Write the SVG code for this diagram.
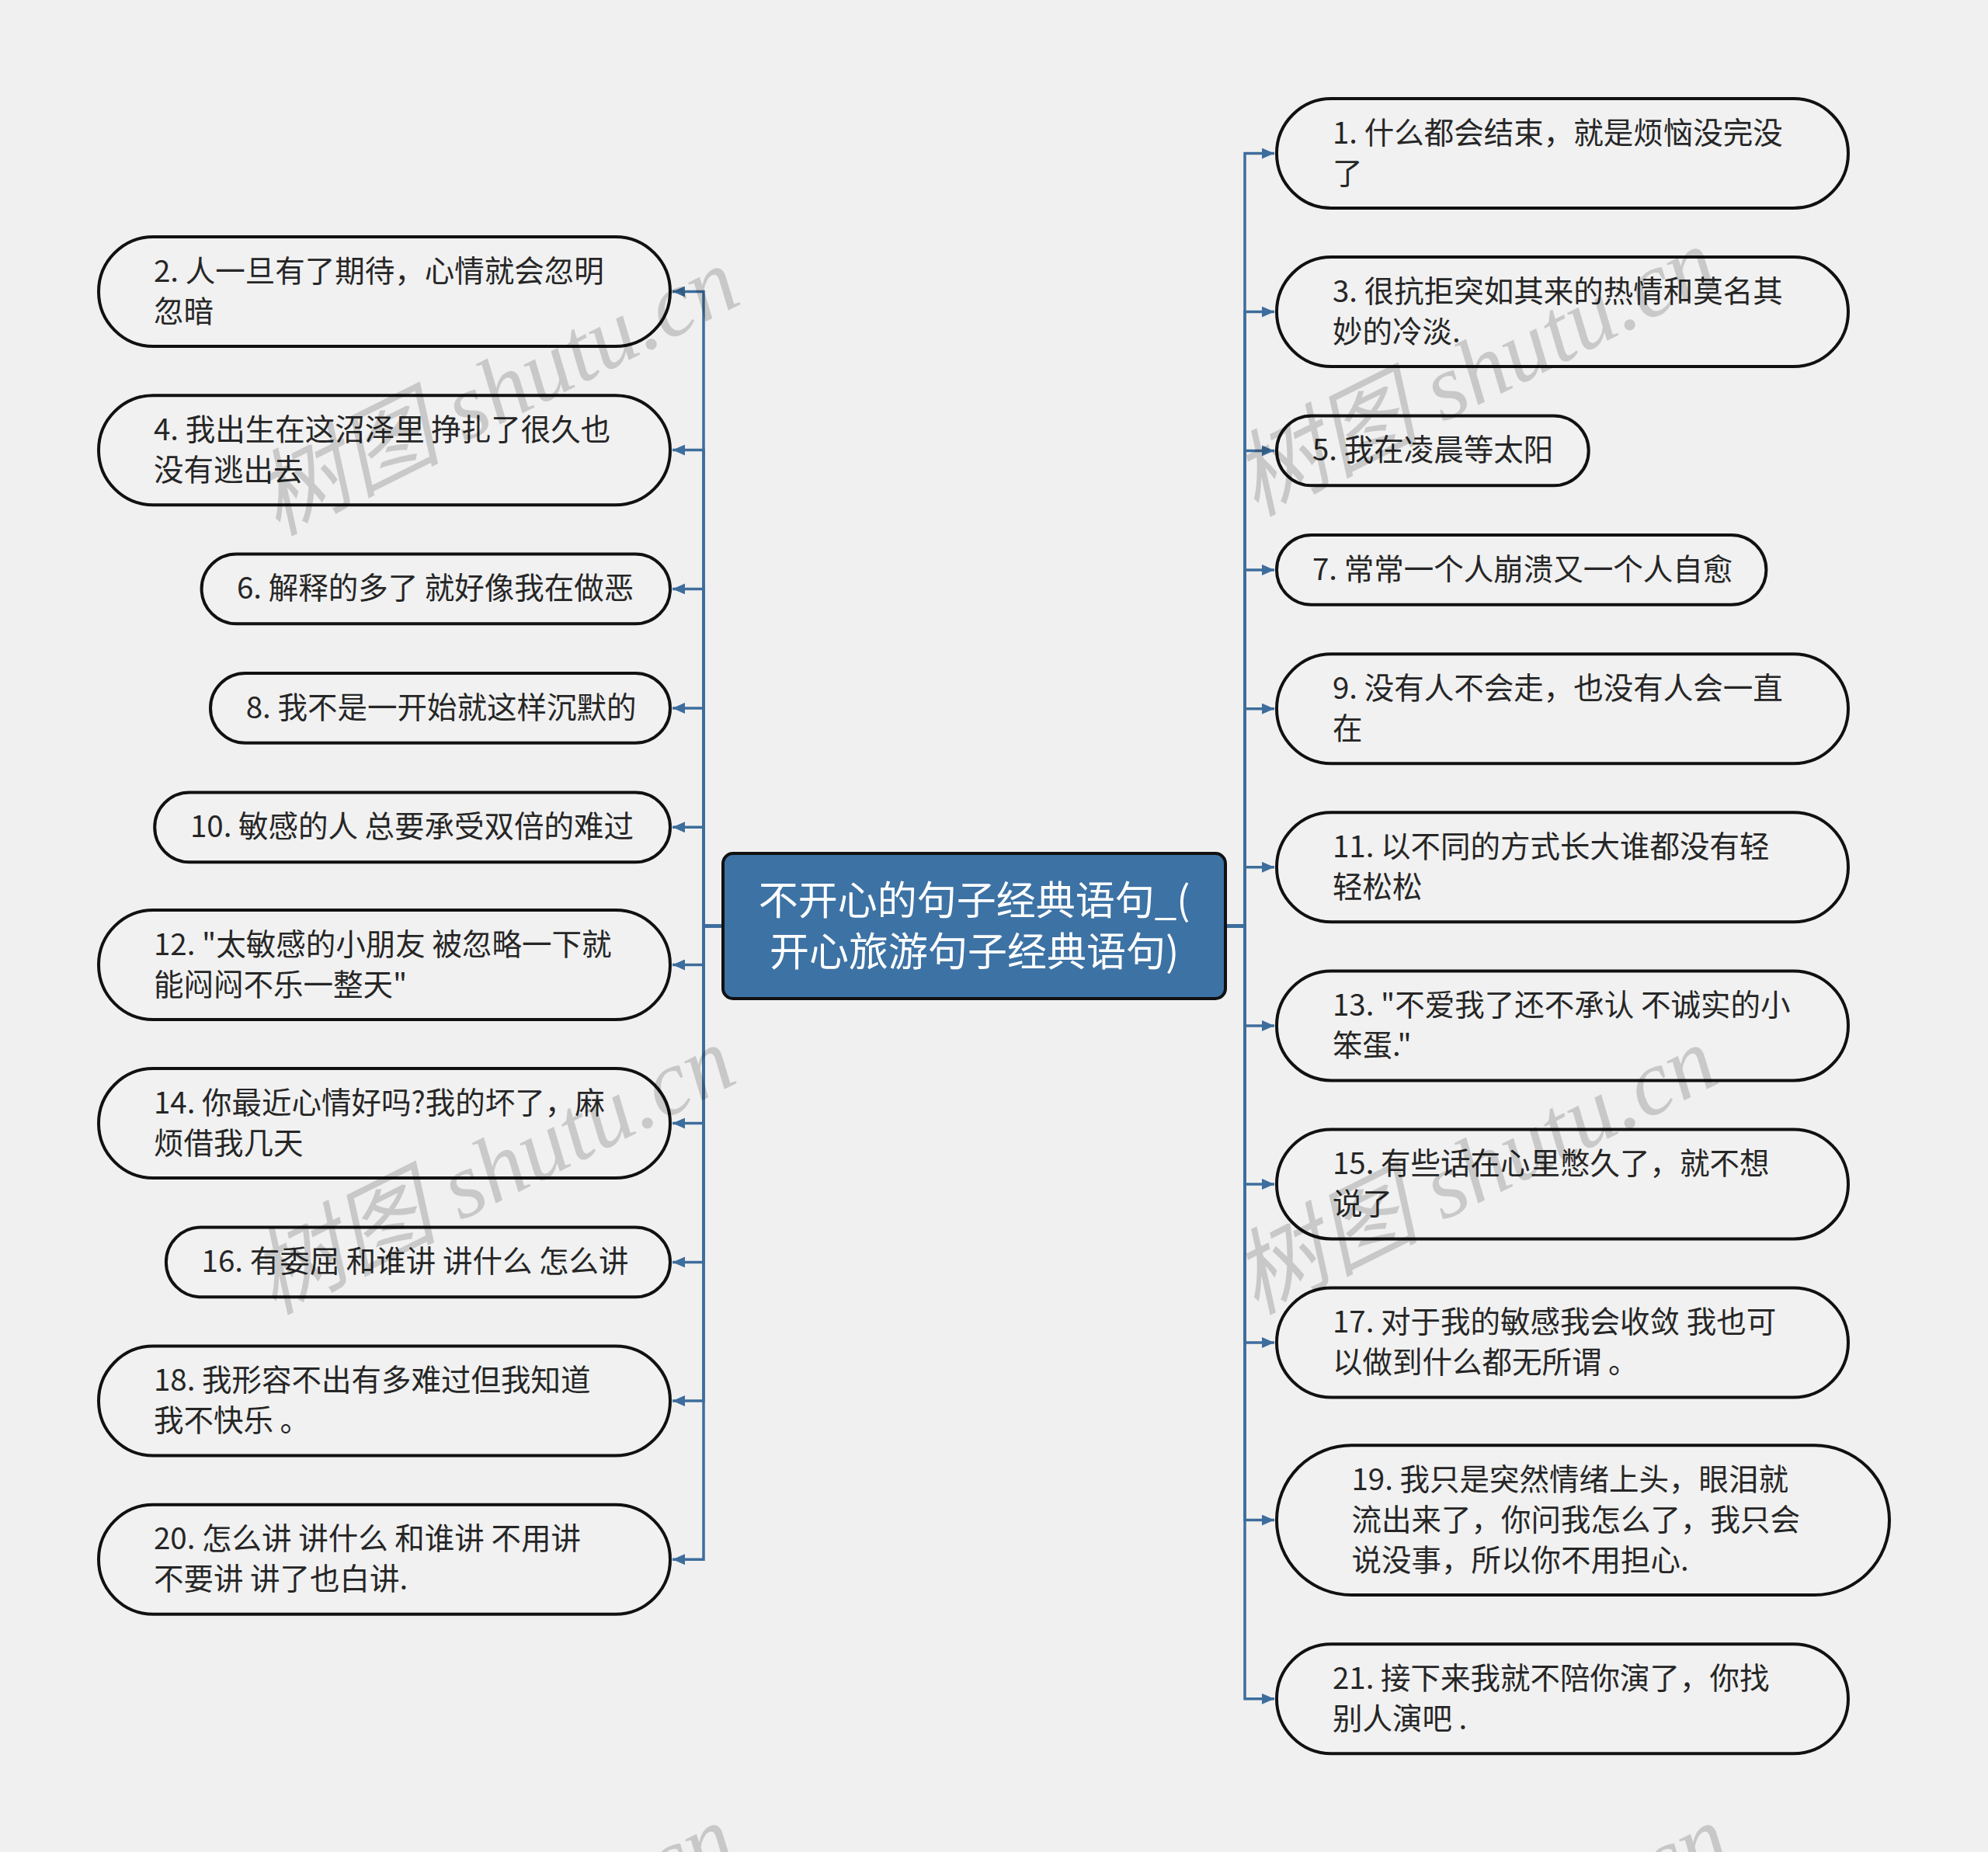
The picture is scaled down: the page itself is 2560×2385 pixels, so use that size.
<svg xmlns="http://www.w3.org/2000/svg" width="2560" height="2385" viewBox="0 0 2560 2385">
<defs>
<style>
.node rect{fill:#f1f1f1;stroke:#111;stroke-width:4}
.node text{font-family:"Noto Sans CJK SC","Microsoft YaHei",sans-serif;font-size:38.5px;fill:#262626}
.root rect{fill:#3d72a4;stroke:#111;stroke-width:4}
.root text{font-family:"Noto Sans CJK SC","Microsoft YaHei",sans-serif;font-size:51px;fill:#ffffff;text-anchor:middle}
.edge{fill:none;stroke:#3d6d9c;stroke-width:3.5;marker-end:url(#arr)}
.wm{font-family:"Liberation Serif","Noto Sans CJK SC",serif;font-style:italic;font-size:120px;fill:#000;fill-opacity:0.165}
</style>
<marker id="arr" viewBox="0 0 16 14" refX="16" refY="7" markerWidth="16" markerHeight="14" markerUnits="userSpaceOnUse" orient="auto">
<path d="M0,0 L16,7 L0,14 z" fill="#3d6d9c"/>
</marker>
</defs>
<rect x="0" y="0" width="2560" height="2385" fill="#f0f0f0"/>

<g id="connectors">
<path class="edge" d="M931,1192.5 H906 V375.5 H866"/>
<path class="edge" d="M931,1192.5 H906 V579.6 H866"/>
<path class="edge" d="M931,1192.5 H906 V758.4 H866"/>
<path class="edge" d="M931,1192.5 H906 V911.9 H866"/>
<path class="edge" d="M931,1192.5 H906 V1065.3 H866"/>
<path class="edge" d="M931,1192.5 H906 V1242.5 H866"/>
<path class="edge" d="M931,1192.5 H906 V1446.6 H866"/>
<path class="edge" d="M931,1192.5 H906 V1625.4 H866"/>
<path class="edge" d="M931,1192.5 H906 V1804.1 H866"/>
<path class="edge" d="M931,1192.5 H906 V2008.2 H866"/>
<path class="edge" d="M1578,1192.5 H1603 V197.6 H1641"/>
<path class="edge" d="M1578,1192.5 H1603 V401.6 H1641"/>
<path class="edge" d="M1578,1192.5 H1603 V580.4 H1641"/>
<path class="edge" d="M1578,1192.5 H1603 V733.9 H1641"/>
<path class="edge" d="M1578,1192.5 H1603 V912.7 H1641"/>
<path class="edge" d="M1578,1192.5 H1603 V1116.8 H1641"/>
<path class="edge" d="M1578,1192.5 H1603 V1320.9 H1641"/>
<path class="edge" d="M1578,1192.5 H1603 V1524.9 H1641"/>
<path class="edge" d="M1578,1192.5 H1603 V1729 H1641"/>
<path class="edge" d="M1578,1192.5 H1603 V1957.6 H1641"/>
<path class="edge" d="M1578,1192.5 H1603 V2187.8 H1641"/>
</g>

<g id="root" class="root">
<rect x="931" y="1099" width="647" height="187" rx="13"/>
<text x="1254.5" y="1178">不开心的句子经典语句_(</text>
<text x="1254.5" y="1244">开心旅游句子经典语句)</text>
</g>

<g id="n2" class="node"><rect x="127" y="305" width="736" height="141" rx="70.5"/>
<text x="198" y="362.5">2. 人一旦有了期待，心情就会忽明</text><text x="198" y="414.5">忽暗</text></g>
<g id="n4" class="node"><rect x="127" y="509.2" width="736" height="141" rx="70.5"/>
<text x="198" y="566.6">4. 我出生在这沼泽里 挣扎了很久也</text><text x="198" y="618.6">没有逃出去</text></g>
<g id="n6" class="node"><rect x="259.6" y="713.5" width="603.4" height="89.8" rx="44.9"/>
<text x="305" y="771.4">6. 解释的多了 就好像我在做恶</text></g>
<g id="n8" class="node"><rect x="271" y="867" width="592" height="89.8" rx="44.9"/>
<text x="316.7" y="924.9">8. 我不是一开始就这样沉默的</text></g>
<g id="n10" class="node"><rect x="199.2" y="1020.4" width="663.8" height="89.8" rx="44.9"/>
<text x="244.9" y="1078.3">10. 敏感的人 总要承受双倍的难过</text></g>
<g id="n12" class="node"><rect x="127" y="1172" width="736" height="141" rx="70.5"/>
<text x="198" y="1229.5">12. "太敏感的小朋友 被忽略一下就</text><text x="198" y="1281.5">能闷闷不乐一整天"</text></g>
<g id="n14" class="node"><rect x="127" y="1376.1" width="736" height="141" rx="70.5"/>
<text x="198" y="1433.6">14. 你最近心情好吗?我的坏了，麻</text><text x="198" y="1485.6">烦借我几天</text></g>
<g id="n16" class="node"><rect x="213.9" y="1580.5" width="649.1" height="89.8" rx="44.9"/>
<text x="259.6" y="1638.4">16. 有委屈 和谁讲 讲什么 怎么讲</text></g>
<g id="n18" class="node"><rect x="127" y="1733.6" width="736" height="141" rx="70.5"/>
<text x="198" y="1791.1">18. 我形容不出有多难过但我知道</text><text x="198" y="1843.1">我不快乐 。</text></g>
<g id="n20" class="node"><rect x="127" y="1937.7" width="736" height="141" rx="70.5"/>
<text x="198" y="1995.2">20. 怎么讲 讲什么 和谁讲 不用讲</text><text x="198" y="2047.2">不要讲 讲了也白讲.</text></g>

<g id="n1" class="node"><rect x="1644" y="127.1" width="736" height="141" rx="70.5"/>
<text x="1716" y="184.6">1. 什么都会结束，就是烦恼没完没</text><text x="1716" y="236.6">了</text></g>
<g id="n3" class="node"><rect x="1644" y="331.1" width="736" height="141" rx="70.5"/>
<text x="1716" y="388.6">3. 很抗拒突如其来的热情和莫名其</text><text x="1716" y="440.6">妙的冷淡.</text></g>
<g id="n5" class="node"><rect x="1644" y="535.5" width="401.7" height="89.8" rx="44.9"/>
<text x="1690" y="593.4">5. 我在凌晨等太阳</text></g>
<g id="n7" class="node"><rect x="1644" y="689" width="630.4" height="89.8" rx="44.9"/>
<text x="1690" y="746.9">7. 常常一个人崩溃又一个人自愈</text></g>
<g id="n9" class="node"><rect x="1644" y="842.2" width="736" height="141" rx="70.5"/>
<text x="1716" y="899.7">9. 没有人不会走，也没有人会一直</text><text x="1716" y="951.7">在</text></g>
<g id="n11" class="node"><rect x="1644" y="1046.3" width="736" height="141" rx="70.5"/>
<text x="1716" y="1103.8">11. 以不同的方式长大谁都没有轻</text><text x="1716" y="1155.8">轻松松</text></g>
<g id="n13" class="node"><rect x="1644" y="1250.4" width="736" height="141" rx="70.5"/>
<text x="1716" y="1307.9">13. "不爱我了还不承认 不诚实的小</text><text x="1716" y="1359.9">笨蛋."</text></g>
<g id="n15" class="node"><rect x="1644" y="1454.4" width="736" height="141" rx="70.5"/>
<text x="1716" y="1511.9">15. 有些话在心里憋久了，就不想</text><text x="1716" y="1563.9">说了</text></g>
<g id="n17" class="node"><rect x="1644" y="1658.5" width="736" height="141" rx="70.5"/>
<text x="1716" y="1716">17. 对于我的敏感我会收敛 我也可</text><text x="1716" y="1768">以做到什么都无所谓 。</text></g>
<g id="n19" class="node"><rect x="1644" y="1861.3" width="789" height="192.7" rx="96.3"/>
<text x="1740.5" y="1918.6">19. 我只是突然情绪上头，眼泪就</text><text x="1740.5" y="1970.6">流出来了，你问我怎么了，我只会</text><text x="1740.5" y="2022.6">说没事，所以你不用担心.</text></g>
<g id="n21" class="node"><rect x="1644" y="2117.3" width="736" height="141" rx="70.5"/>
<text x="1716" y="2174.8">21. 接下来我就不陪你演了，你找</text><text x="1716" y="2226.8">别人演吧 .</text></g>

<g id="watermarks">
<text class="wm" x="356" y="690" transform="rotate(-26.5 356 690)">树图 shutu.cn</text>
<text class="wm" x="351" y="1693" transform="rotate(-26.5 351 1693)">树图 shutu.cn</text>
<text class="wm" x="352" y="2695" transform="rotate(-26.5 352 2695)">树图 shutu.cn</text>
<text class="wm" x="1616" y="665" transform="rotate(-26.5 1616 665)">树图 shutu.cn</text>
<text class="wm" x="1616" y="1693" transform="rotate(-26.5 1616 1693)">树图 shutu.cn</text>
<text class="wm" x="1632" y="2695" transform="rotate(-26.5 1632 2695)">树图 shutu.cn</text>
</g>
</svg>
